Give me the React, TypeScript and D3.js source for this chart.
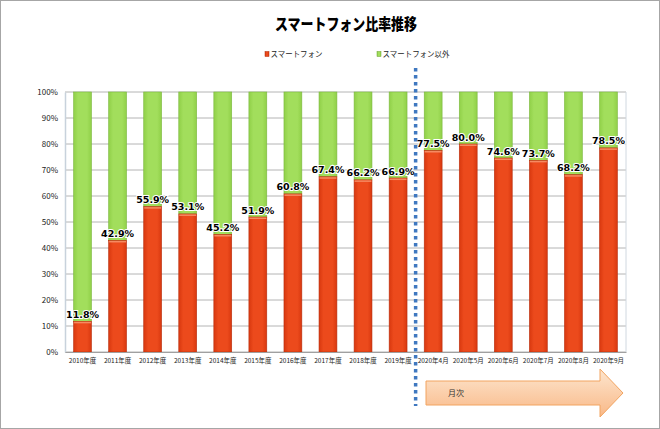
import React from 'react';
import * as d3 from 'd3';

const categories = [
  '2010年度', '2011年度', '2012年度', '2013年度', '2014年度', '2015年度', '2016年度', '2017年度',
  '2018年度', '2019年度', '2020年4月', '2020年5月', '2020年6月', '2020年7月', '2020年8月', '2020年9月',
];
const smartphone = [11.8, 42.9, 55.9, 53.1, 45.2, 51.9, 60.8, 67.4, 66.2, 66.9, 77.5, 80.0, 74.6, 73.7, 68.2, 78.5];
const yTicks = [0, 10, 20, 30, 40, 50, 60, 70, 80, 90, 100];
const seriesNames = ['スマートフォン', 'スマートフォン以外'];
const title = 'スマートフォン比率推移';
const arrowLabel = '月次';

const W = 660;
const H = 429;
const font = '"Noto Sans CJK JP", "DejaVu Sans", sans-serif';

const App: React.FC = () => {
  const ref = React.useRef<SVGSVGElement>(null);

  React.useEffect(() => {
    const svg = d3.select(ref.current);
    svg.selectAll('*').remove();

    const margin = { top: 92, right: 34, bottom: 77, left: 65 };
    const x = d3.scaleBand<string>().domain(categories).range([margin.left, W - margin.right]).paddingInner(0.49).paddingOuter(0.245);
    const y = d3.scaleLinear().domain([0, 100]).range([H - margin.bottom, margin.top]);

    const defs = svg.append('defs');
    const grad = (id: string, stops: [number, string][], vertical = false) => {
      const g = defs.append('linearGradient').attr('id', id)
        .attr('x1', 0).attr('y1', 0).attr('x2', vertical ? 0 : 1).attr('y2', vertical ? 1 : 0);
      stops.forEach(([o, c]) => g.append('stop').attr('offset', o).attr('stop-color', c));
    };
    grad('red', [[0, '#d8380f'], [0.25, '#ec4a1c'], [0.75, '#ec4a1c'], [1, '#d8380f']]);
    grad('green', [[0, '#90d048'], [0.25, '#a2de5c'], [0.75, '#a2de5c'], [1, '#90d048']]);
    grad('arrow', [[0, '#fde6cf'], [1, '#f9b887']], true);

    // background + frame
    svg.append('rect').attr('x', 0.5).attr('y', 0.5).attr('width', W - 1).attr('height', H - 1)
      .attr('fill', '#fff').attr('stroke', '#a6a6a6');

    // title
    svg.append('text').attr('x', 275).attr('y', 30)
      .attr('textLength', 142).attr('lengthAdjust', 'spacingAndGlyphs')
      .attr('font-family', font).attr('font-weight', 900).attr('font-size', 16).text(title);

    // legend
    const legend = [
      { x: 265, w: 52, fill: 'url(#red)', stroke: '#b02a08' },
      { x: 377, w: 67, fill: 'url(#green)', stroke: '#6a9e30' },
    ];
    legend.forEach((l, i) => {
      svg.append('rect').attr('x', l.x).attr('y', 51.5).attr('width', 4).attr('height', 5)
        .attr('fill', l.fill).attr('stroke', l.stroke).attr('stroke-width', 0.5);
      svg.append('text').attr('x', l.x + 5.5).attr('y', 57)
        .attr('textLength', l.w).attr('lengthAdjust', 'spacingAndGlyphs')
        .attr('font-family', font).attr('font-size', 8).attr('fill', '#222').text(seriesNames[i]);
    });

    // gridlines
    svg.append('g').selectAll('line').data(yTicks).enter().append('line')
      .attr('x1', margin.left).attr('x2', W - margin.right)
      .attr('y1', (d: number) => y(d)).attr('y2', (d: number) => y(d))
      .attr('stroke', '#b4b4b4').attr('stroke-width', 1);
    // plot border right
    svg.append('line').attr('x1', W - margin.right).attr('x2', W - margin.right)
      .attr('y1', y(100)).attr('y2', y(0)).attr('stroke', '#d0d8e0');

    // y axis
    const yAxis = svg.append('g').attr('transform', `translate(${margin.left},0)`)
      .call(d3.axisLeft(y).tickValues(yTicks).tickSize(0).tickPadding(7).tickFormat((d: d3.NumberValue) => `${d}%`));
    yAxis.select('.domain').attr('stroke', '#c8d2dc').attr('stroke-width', 1.5);
    yAxis.selectAll('text').attr('font-family', font).attr('font-size', 8).attr('fill', '#222');

    // bars
    const bars = svg.append('g');
    categories.forEach((c, i) => {
      const bx = x(c) as number;
      const bw = x.bandwidth();
      const v = smartphone[i];
      bars.append('rect').attr('x', bx).attr('y', y(100)).attr('width', bw).attr('height', y(v) - y(100))
        .attr('fill', 'url(#green)').attr('stroke', '#7cb840').attr('stroke-width', 0.6);
      bars.append('rect').attr('x', bx).attr('y', y(v)).attr('width', bw).attr('height', y(0) - y(v))
        .attr('fill', 'url(#red)').attr('stroke', '#b83010').attr('stroke-width', 0.6);
      bars.append('rect').attr('x', bx + 0.5).attr('y', y(v) + 0.5).attr('width', bw - 1).attr('height', 1.5)
        .attr('fill', '#f58a62');
    });

    // value labels
    svg.append('g').selectAll('text').data(smartphone).enter().append('text')
      .attr('x', (_d: number, i: number) => (x(categories[i]) as number) + x.bandwidth() / 2)
      .attr('y', (d: number) => y(d) - 3.5)
      .attr('text-anchor', 'middle').attr('font-family', '"DejaVu Sans", sans-serif')
      .attr('font-weight', 'bold').attr('font-size', 9.5).attr('fill', '#000')
      .attr('stroke', '#fff').attr('stroke-width', 2).attr('paint-order', 'stroke')
      .text((d: number) => `${d.toFixed(1)}%`);

    // x axis
    const xAxis = svg.append('g').attr('transform', `translate(0,${y(0)})`)
      .call(d3.axisBottom(x).tickSize(0).tickPadding(6));
    xAxis.select('.domain').attr('stroke', '#a0a0a0').attr('stroke-width', 1.2);
    xAxis.selectAll('text').attr('font-family', font).attr('font-size', 6.5).attr('fill', '#222');

    // divider dotted line
    const divX = ((x('2019年度') as number) + x.bandwidth() + (x('2020年4月') as number)) / 2;
    svg.append('line').attr('x1', divX).attr('x2', divX).attr('y1', 68).attr('y2', 406)
      .attr('stroke', '#3f78c0').attr('stroke-width', 3.5).attr('stroke-dasharray', '3.5 3.5');

    // arrow
    const ax0 = 426, ax1 = 600, ax2 = 623, by0 = 381, by1 = 405, hy0 = 369, hy1 = 417;
    const pts: [number, number][] = [
      [ax0, by0], [ax1, by0], [ax1, hy0], [ax2, (hy0 + hy1) / 2], [ax1, hy1], [ax1, by1], [ax0, by1],
    ];
    svg.append('path').attr('d', d3.line()(pts) + 'Z')
      .attr('fill', 'url(#arrow)').attr('stroke', '#f2a460').attr('stroke-width', 1);
    svg.append('text').attr('x', 448).attr('y', 396).attr('font-family', font)
      .attr('font-size', 8).attr('fill', '#333').text(arrowLabel);
  }, []);

  return (
    <svg ref={ref} width={W} height={H} style={{ position: 'absolute', left: 0, top: 0 }} />
  );
};

export default App;
